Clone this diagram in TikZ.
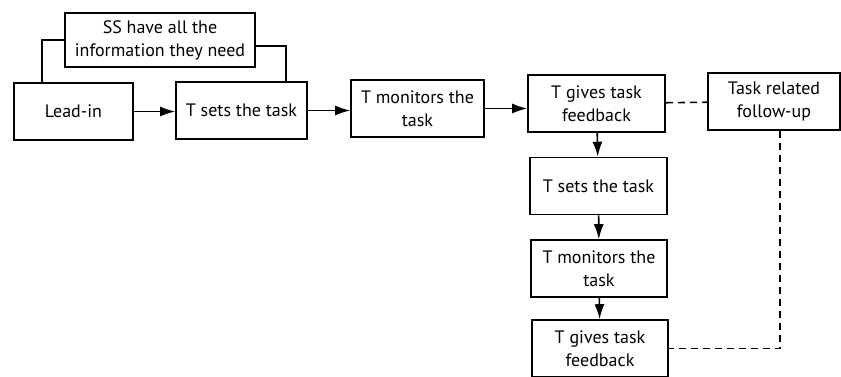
\documentclass[tikz,border=0pt]{standalone}
\usepackage{fontspec}
\setmainfont{PT Sans}
\usetikzlibrary{arrows.meta}

\begin{document}
\begin{tikzpicture}[x=1pt,y=-1pt,>={Latex[length=15pt,width=10pt]},
    box/.style={draw,line width=1.6pt,align=center,inner sep=2pt,
      minimum height=57pt,font=\fontsize{18}{23}\selectfont},
    link/.style={line width=1.6pt},
    loose/.style={line width=1.6pt,dash pattern=on 7pt off 5pt}]
  \useasboundingbox (0,0) rectangle (841,376);

  \node[box,minimum width=190pt,minimum height=54pt] (info) at (160,40) {SS have all the\\information they need};
  \node[box,minimum width=119pt] (leadin) at (73.5,111.5) {Lead-in};
  \node[box,minimum width=131pt] (set1) at (241.5,110.5) {T sets the task};
  \node[box,minimum width=133pt] (mon1) at (417.5,108.5) {T monitors the\\task};
  \node[box,minimum width=137pt] (fb1) at (596.5,103.5) {T gives task\\feedback};
  \node[box,minimum width=132pt] (follow) at (774,101.5) {Task related\\follow-up};
  \node[box,minimum width=137pt] (set2) at (598.5,186) {T sets the task};
  \node[box,minimum width=136pt] (mon2) at (599,268.5) {T monitors the\\task};
  \node[box,minimum width=136pt] (fb2) at (600,348.5) {T gives task\\feedback};

  % the loop over the top
  \draw[link] (info.west) -| ([xshift=29pt]leadin.north west);
  \draw[link] ([yshift=-6pt]info.east) -| ([xshift=-22pt]set1.north east);

  \draw[link,->] (leadin.east) -- (leadin.east -| set1.west);
  \draw[link,->] (set1.east) -- (set1.east -| mon1.west);
  \draw[link,->] (mon1.east) -- (mon1.east -| fb1.west);
  \draw[link,->] (fb1) -- (set2);
  \draw[link,->] (set2) -- (mon2);
  \draw[link,->] (mon2) -- (fb2);

  \draw[loose] (fb1) -- (follow);
  \draw[loose] ([xshift=6pt]follow.south) |- (fb2.east);
\end{tikzpicture}
\end{document}
